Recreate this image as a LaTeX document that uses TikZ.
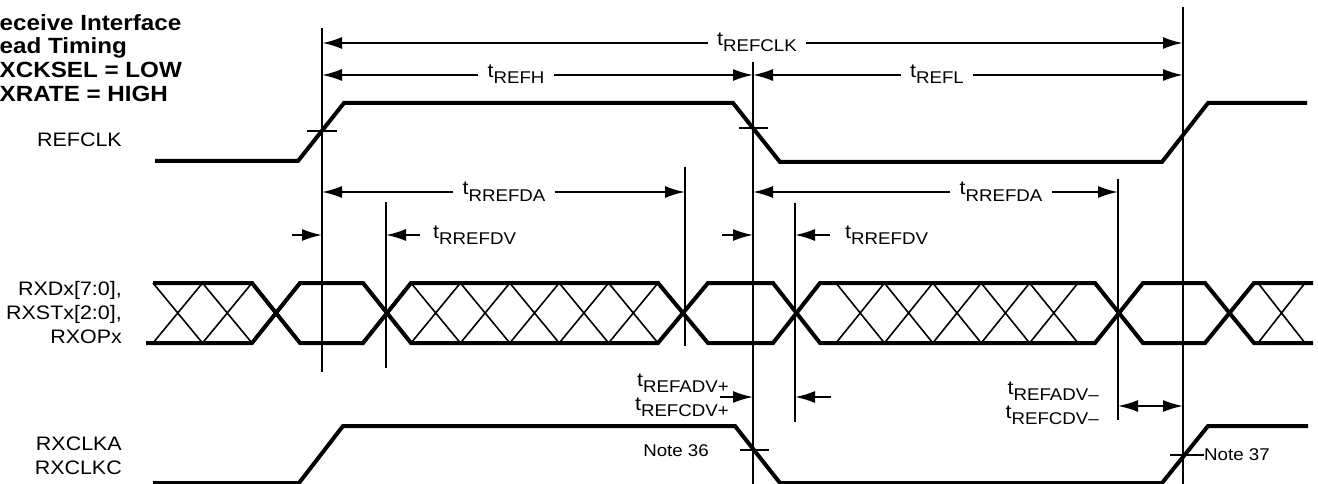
\documentclass[tikz,border=0pt]{standalone}
\usepackage{fontspec}
\setmainfont{Liberation Sans}[FakeStretch=1.1]
\usetikzlibrary{arrows.meta}
\usetikzlibrary{positioning}
\tikzset{>={Latex[length=20pt,width=12pt]}}
\tikzset{sig/.style = {line width=4pt}}
\tikzset{guide/.style = {line width=2pt}}
\tikzset{hatch/.style = {line width=1.6pt}}
\tikzset{dim/.style = {line width=2pt}}
\tikzset{lbl/.style = {font=\fontsize{19.5}{24}\selectfont, inner sep=0pt}}
\tikzset{tlbl/.style = {font=\fontsize{19.5}{24}\selectfont, inner xsep=9pt, inner ysep=0pt, anchor=base}}
\tikzset{note/.style = {font=\fontsize{17}{20}\selectfont, inner sep=0pt}}
\newcommand{\tsb}[1]{t\raisebox{-6pt}{\fontsize{17}{17}\selectfont #1}}

\begin{document}
\begin{tikzpicture}[x=1pt, y=-1pt]
  \useasboundingbox (0,0) rectangle (1318,484);

  % title and signal names
  \node [lbl, font=\bfseries\fontsize{22}{23.7}\selectfont, align=left, anchor=north west] (title) at (-18,14)
    {Receive Interface\\Read Timing\\RXCKSEL = LOW\\RXRATE = HIGH};
  \node [lbl, anchor=east] (refclk) at (122,140) {REFCLK};
  \node [lbl, anchor=east, align=right] (rxd) at (122,313) {RXDx[7:0],\\RXSTx[2:0],\\RXOPx};
  \node [lbl, anchor=east, align=right] (rxclk) at (122,456) {RXCLKA\\RXCLKC};

  % REFCLK
  \draw [sig] (155,161) -- (298,161) -- (344,103) -- (733,103) -- (780,162) -- (1162,162) -- (1208,103) -- (1307,103);
  \draw [guide] (307,131) -- (337,131);
  \draw [guide] (739,128) -- (768,128);

  % data bus
  \draw [sig] (153,283) -- (252,283) -- (300,343) -- (363,343) -- (411,283) -- (658,283) -- (708,343) -- (773,343)
    -- (820,283) -- (1095,283) -- (1143,343) -- (1205,343) -- (1254,283) -- (1313,283);
  \draw [sig] (146,343) -- (252,343) -- (300,283) -- (363,283) -- (411,343) -- (658,343) -- (708,283) -- (773,283)
    -- (820,343) -- (1095,343) -- (1143,283) -- (1205,283) -- (1254,343) -- (1313,343);
  \foreach \a/\b/\n in {153/252/2, 411/658/5, 836/1078/5, 1258/1305/1}
    \foreach \k in {1,...,\n}
      \draw [hatch] ({\a+(\k-1)*(\b-\a)/\n},283) -- ({\a+\k*(\b-\a)/\n},343)
                    ({\a+(\k-1)*(\b-\a)/\n},343) -- ({\a+\k*(\b-\a)/\n},283);

  % RXCLKA / RXCLKC
  \draw [sig] (153,483) -- (299,483) -- (343,426) -- (735,426) -- (780,483) -- (1162,483) -- (1208,426) -- (1308,426);
  \node [note, anchor=east] (n36) at (709,451) {Note 36};
  \draw [guide] (740,450) -- (769,450);
  \node [note, anchor=west] (n37) at (1204,455) {Note 37};
  \coordinate (k37) at (1170,455);
  \draw [guide] (k37) -- (n37.west);

  % vertical reference lines
  \coordinate (a0) at (322,28);   \coordinate (a1) at (322,372);
  \coordinate (b0) at (753,62);   \coordinate (b1) at (753,484);
  \coordinate (c0) at (1183,7);   \coordinate (c1) at (1183,484);
  \coordinate (d0) at (685,167);  \coordinate (d1) at (685,346);
  \coordinate (e0) at (386,202);  \coordinate (e1) at (386,368);
  \coordinate (f0) at (795,203);  \coordinate (f1) at (795,422);
  \coordinate (g0) at (1118,179); \coordinate (g1) at (1118,420);
  \foreach \v in {a,b,c,d,e,f,g}
    \draw [guide] (\v0) -- (\v1);

  % period, high and low time
  \coordinate (y1) at (0,43);
  \coordinate (y2) at (0,75);
  \node [tlbl] (trefclk) at (757,46) {\tsb{REFCLK}};
  \draw [dim, line width=2.6pt, ->] (trefclk.west |- y1) -- (a0 |- y1);
  \draw [dim, line width=2.6pt, ->] (trefclk.east |- y1) -- (c0 |- y1);
  \node [tlbl] (trefh) at (516,78) {\tsb{REFH}};
  \draw [dim, ->] (trefh.west |- y2) -- (a0 |- y2);
  \draw [dim, ->] (trefh.east |- y2) -- (b0 |- y2);
  \node [tlbl] (trefl) at (937,78) {\tsb{REFL}};
  \draw [dim, ->] (trefl.west |- y2) -- (b0 |- y2);
  \draw [dim, ->] (trefl.east |- y2) -- (c0 |- y2);

  % data access
  \coordinate (y3) at (0,192);
  \node [tlbl] (tda1) at (504,195) {\tsb{RREFDA}};
  \draw [dim, ->] (tda1.west |- y3) -- (a0 |- y3);
  \draw [dim, ->] (tda1.east |- y3) -- (d0 |- y3);
  \node [tlbl] (tda2) at (1001,195) {\tsb{RREFDA}};
  \draw [dim, ->] (tda2.west |- y3) -- (b0 |- y3);
  \draw [dim, ->] (tda2.east |- y3) -- (g0 |- y3);

  % data valid
  \coordinate (dv1) at (292,235);
  \coordinate (dv2) at (420,235);
  \draw [dim, ->] (dv1) -- (a0 |- dv1);
  \draw [dim, ->] (dv2) -- (e0 |- dv2);
  \node [tlbl, anchor=base west] (tdv1) at (424,238) {\tsb{RREFDV}};
  \coordinate (dv3) at (722,235);
  \coordinate (dv4) at (830,235);
  \draw [dim, ->] (dv3) -- (b0 |- dv3);
  \draw [dim, ->] (dv4) -- (f0 |- dv4);
  \node [tlbl, anchor=base west] (tdv2) at (836,238) {\tsb{RREFDV}};

  % output delay
  \coordinate (od1) at (720,397);
  \coordinate (od2) at (831,397);
  \draw [dim, ->] (od1) -- (b0 |- od1);
  \draw [dim, ->] (od2) -- (f0 |- od2);
  \node [lbl, align=right, anchor=east] (tadvp) at (729,395) {\tsb{REFADV+}\\\tsb{REFCDV+}};
  \coordinate (od3) at (0,406);
  \draw [dim, <->] (g0 |- od3) -- (c0 |- od3);
  \node [lbl, align=right, anchor=east] (tadvm) at (1099,403) {\tsb{REFADV--}\\\tsb{REFCDV--}};
\end{tikzpicture}
\end{document}
